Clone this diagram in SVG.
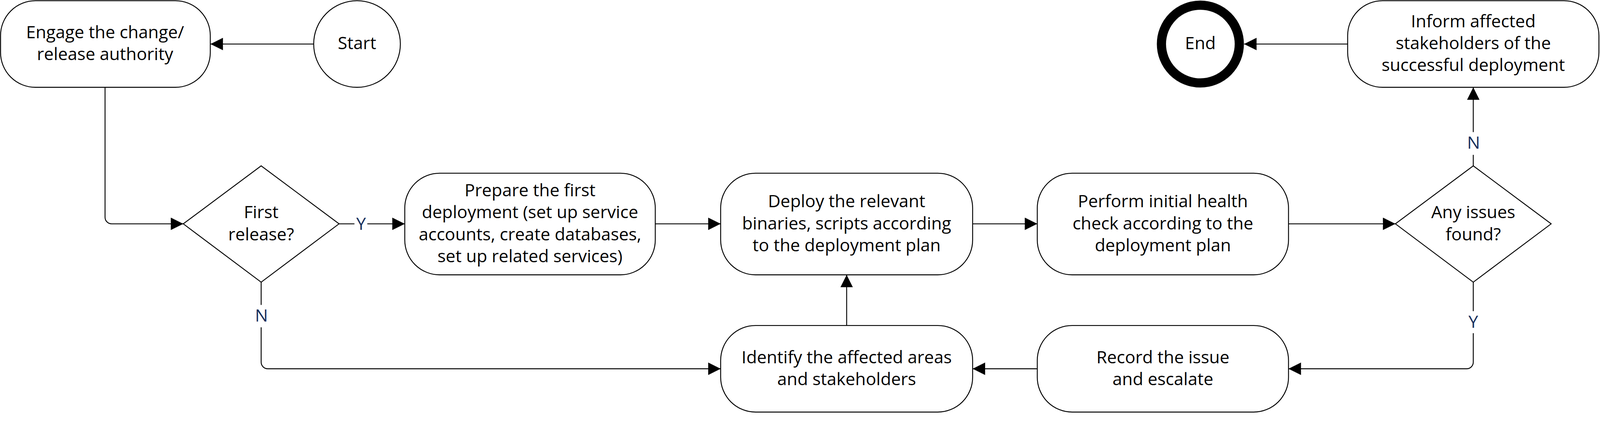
<svg xmlns="http://www.w3.org/2000/svg" width="4356" height="1125" viewBox="0 0 4356 1125">
<style>
.box{fill:#fff;stroke:#000;stroke-width:2.5}
.t{font-family:"Open Sans","Noto Sans","Liberation Sans",sans-serif;font-size:47px;fill:#000;text-anchor:middle}
.lbl{font-family:"Open Sans","Noto Sans","Liberation Sans",sans-serif;font-size:47px;fill:#162f5c;text-anchor:middle}
.c{fill:none;stroke:#000;stroke-width:2.5}
.bg{fill:#fff;stroke:none}
</style>
<defs>
<marker id="arr" markerUnits="userSpaceOnUse" markerWidth="34" markerHeight="34" viewBox="0 0 33 33" refX="33" refY="16.5" orient="auto">
<path d="M0,0 L33,16.5 L0,33 z" fill="#000"/>
</marker>
</defs>
<rect width="4356" height="1125" fill="#fff"/>
<g id="diagram" transform="scale(0.94031)">
<g id="connectors">
<path class="c" d="M853,120 H573" marker-end="url(#arr)"/>
<path class="c" d="M286,238 V592 A18,18 0 0 0 304,610 H499" marker-end="url(#arr)"/>
<path class="c" d="M923,610 H1102" marker-end="url(#arr)"/>
<path class="c" d="M1784,610 H1962" marker-end="url(#arr)"/>
<path class="c" d="M2648,610 H2824" marker-end="url(#arr)"/>
<path class="c" d="M3508,610 H3799" marker-end="url(#arr)"/>
<path class="c" d="M4011,452 V238" marker-end="url(#arr)"/>
<path class="c" d="M3669,120 H3387" marker-end="url(#arr)"/>
<path class="c" d="M4011,769 V987 A18,18 0 0 1 3993,1005 H3508" marker-end="url(#arr)"/>
<path class="c" d="M2824,1005 H2648" marker-end="url(#arr)"/>
<path class="c" d="M2305,887 V749" marker-end="url(#arr)"/>
<path class="c" d="M711,769 V987 A18,18 0 0 0 729,1005 H1962" marker-end="url(#arr)"/>
<rect class="bg" x="965" y="585" width="35" height="50"/>
<text class="lbl" x="983" y="626">Y</text>
<rect class="bg" x="690" y="831" width="44" height="61"/>
<text class="lbl" x="712" y="876">N</text>
<rect class="bg" x="3989" y="360" width="44" height="62"/>
<text class="lbl" x="4012" y="405">N</text>
<rect class="bg" x="3990" y="848" width="42" height="60"/>
<text class="lbl" x="4011" y="893">Y</text>
</g>

<g id="engage">
<rect class="box" x="1.5" y="2" width="571" height="236" rx="95" ry="95"/>
<text class="t" x="286" y="104">Engage the change/</text>
<text class="t" x="286" y="164">release authority</text>
</g>

<g id="start">
<circle class="box" cx="972" cy="120" r="118"/>
<text class="t" x="972" y="134">Start</text>
</g>

<g id="first-release">
<polygon class="box" points="711,452 923,610 711,769 499,610"/>
<text class="t" x="711" y="595">First</text>
<text class="t" x="711" y="655">release?</text>
</g>

<g id="prepare">
<rect class="box" x="1102" y="472" width="682" height="277" rx="95" ry="95"/>
<text class="t" x="1443" y="535">Prepare the first</text>
<text class="t" x="1443" y="595">deployment (set up service</text>
<text class="t" x="1443" y="655">accounts, create databases,</text>
<text class="t" x="1443" y="715">set up related services)</text>
</g>

<g id="deploy">
<rect class="box" x="1962" y="472" width="686" height="277" rx="95" ry="95"/>
<text class="t" x="2305" y="565">Deploy the relevant</text>
<text class="t" x="2305" y="625">binaries, scripts according</text>
<text class="t" x="2305" y="685">to the deployment plan</text>
</g>

<g id="perform">
<rect class="box" x="2824" y="472" width="684" height="277" rx="95" ry="95"/>
<text class="t" x="3166" y="565">Perform initial health</text>
<text class="t" x="3166" y="625">check according to the</text>
<text class="t" x="3166" y="685">deployment plan</text>
</g>

<g id="any-issues">
<polygon class="box" points="4011,452 4223,610 4011,769 3799,610"/>
<text class="t" x="4011" y="595">Any issues</text>
<text class="t" x="4011" y="655">found?</text>
</g>

<g id="inform">
<rect class="box" x="3669" y="2" width="684" height="236" rx="95" ry="95"/>
<text class="t" x="4011" y="74">Inform affected</text>
<text class="t" x="4011" y="134">stakeholders of the</text>
<text class="t" x="4011" y="194">successful deployment</text>
</g>

<g id="end">
<circle cx="3268" cy="120" r="106" fill="#fff" stroke="#000" stroke-width="25"/>
<text class="t" x="3268" y="134">End</text>
</g>

<g id="record">
<rect class="box" x="2824" y="887" width="684" height="236" rx="95" ry="95"/>
<text class="t" x="3166" y="990">Record the issue</text>
<text class="t" x="3166" y="1050">and escalate</text>
</g>

<g id="identify">
<rect class="box" x="1962" y="887" width="686" height="236" rx="95" ry="95"/>
<text class="t" x="2305" y="990">Identify the affected areas</text>
<text class="t" x="2305" y="1050">and stakeholders</text>
</g>
</g>
</svg>
